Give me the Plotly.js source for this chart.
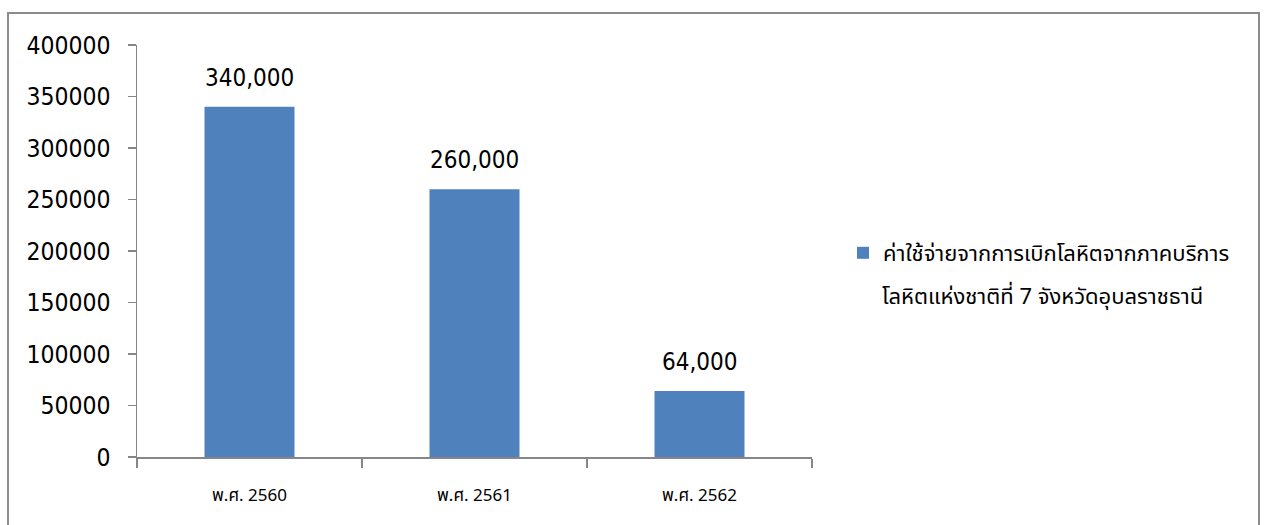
<!DOCTYPE html>
<html>
<head>
<meta charset="utf-8">
<script src="https://cdn.plot.ly/plotly-3.0.1.min.js"></script>
<style>html,body{margin:0;padding:0;background:#fff;}#chart{width:1264px;height:525px;}</style>
</head>
<body>
<div id="chart"></div>
<script>
const categories = ["พ.ศ. 2560", "พ.ศ. 2561", "พ.ศ. 2562"];
const values = [340000, 260000, 64000];
const seriesLine1 = "ค่าใช้จ่ายจากการเบิกโลหิตจากภาคบริการ";
const seriesLine2 = "โลหิตแห่งชาติที่ 7 จังหวัดอุบลราชธานี";
const yTicks = [0, 50000, 100000, 150000, 200000, 250000, 300000, 350000, 400000];

const W = 1264, H = 525;
const L = 137, R = 812, T = 45, B = 457;
const pw = R - L, ph = B - T;
const px = v => (v - L) / pw;
const py = v => (B - v) / ph;

const numFont = "'DejaVu Sans Condensed', 'DejaVu Sans', Tahoma, sans-serif";
const thaiFont = "Tahoma, 'Noto Sans Thai', 'Noto Sans', 'Liberation Sans', sans-serif";

const trace = {
  type: 'bar',
  x: categories,
  y: values,
  name: seriesLine1,
  marker: {color: '#4F81BD', line: {width: 0}},
  hoverinfo: 'none'
};

const labelAnnotations = categories.map((c, i) => ({
  x: c, y: values[i], xref: 'x', yref: 'y',
  text: values[i].toLocaleString('en-US'),
  showarrow: false, yanchor: 'bottom', xanchor: 'center', yshift: 13,
  font: {family: numFont, size: 24, color: '#000'}
}));

const layout = {
  width: W, height: H,
  margin: {l: L, r: W - R, t: T, b: H - B, pad: 0},
  paper_bgcolor: '#fff', plot_bgcolor: '#fff',
  bargap: 0.6,
  showlegend: true,
  legend: {
    x: px(843), y: py(253), xanchor: 'left', yanchor: 'middle',
    font: {family: thaiFont, size: 22, color: '#000'},
    bgcolor: 'rgba(0,0,0,0)'
  },
  xaxis: {
    type: 'category', range: [-0.5, 2.5],
    showline: true, linecolor: '#868686', linewidth: 1.5,
    ticks: 'outside', tickson: 'boundaries', ticklen: 9, tickcolor: '#868686', tickwidth: 1.5,
    showgrid: false, zeroline: false,
    tickfont: {family: thaiFont, size: 17, color: '#000'},
    ticklabelstandoff: 22
  },
  yaxis: {
    range: [0, 400000], tickvals: yTicks, tickformat: 'd',
    showline: true, linecolor: '#868686', linewidth: 1.5,
    ticks: 'outside', ticklen: 8, tickcolor: '#868686', tickwidth: 1.5,
    showgrid: false, zeroline: false,
    tickfont: {family: numFont, size: 24.5, color: '#000'},
    ticklabelstandoff: 12
  },
  shapes: [{
    type: 'rect', xref: 'paper', yref: 'paper',
    x0: px(8), x1: px(1259), y0: py(540), y1: py(13),
    line: {color: '#8c8c8c', width: 2}, fillcolor: 'rgba(0,0,0,0)'
  }],
  annotations: labelAnnotations.concat([{
    xref: 'paper', yref: 'paper', x: px(880), y: py(297),
    xanchor: 'left', yanchor: 'middle', showarrow: false,
    text: seriesLine2,
    font: {family: thaiFont, size: 22, color: '#000'}
  }])
};

Plotly.newPlot('chart', [trace], layout, {displayModeBar: false, staticPlot: true});
</script>
</body>
</html>
